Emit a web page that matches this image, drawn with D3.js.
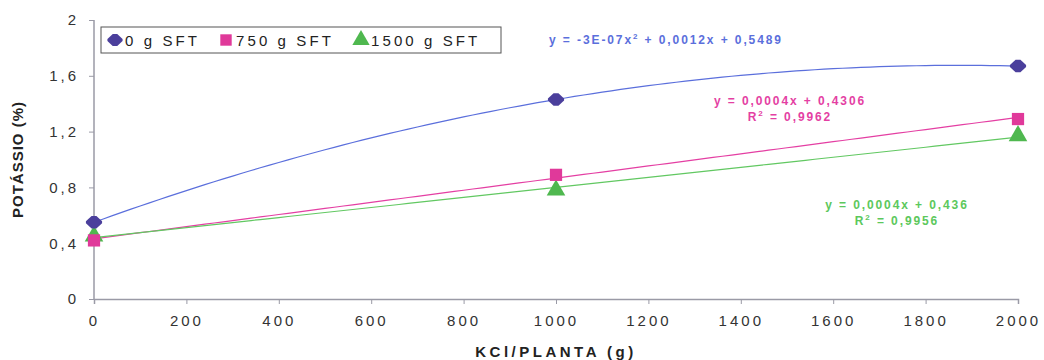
<!DOCTYPE html>
<html>
<head>
<meta charset="utf-8">
<script src="https://cdn.jsdelivr.net/npm/d3@7"></script>
<style>
  body { margin: 0; background: #fff; }
  svg text { font-family: Arial, "Liberation Sans", sans-serif; }
</style>
</head>
<body>
<svg id="chart" width="1044" height="360"></svg>
<script>
const doses = [0, 1000, 2000];
const sft0 = [0.55, 1.43, 1.67];
const sft750 = [0.42, 0.89, 1.29];
const sft1500 = [0.45, 0.78, 1.17];
const xTicks = [0, 200, 400, 600, 800, 1000, 1200, 1400, 1600, 1800, 2000];
const yTicks = [0, 0.4, 0.8, 1.2, 1.6, 2];

const width = 1044;
const height = 360;
const margin = { top: 20, right: 26, bottom: 61, left: 94 };

const svg = d3.select("#chart");
const x = d3.scaleLinear().domain([0, 2000]).range([margin.left, width - margin.right]);
const y = d3.scaleLinear().domain([0, 2]).range([height - margin.bottom, margin.top]);

// excel style diamond: wider than tall, with blunt sides
const wideDiamond = {
  draw(context, size) {
    const w = Math.sqrt(size) * 0.62;
    const h = w * 0.78;
    context.moveTo(-w, -h * 0.15);
    context.lineTo(-w * 0.3, -h);
    context.lineTo(w * 0.3, -h);
    context.lineTo(w, -h * 0.15);
    context.lineTo(w, h * 0.15);
    context.lineTo(w * 0.3, h);
    context.lineTo(-w * 0.3, h);
    context.lineTo(-w, h * 0.15);
    context.closePath();
  },
};

const series = [
  { name: "0 g SFT", values: sft0, line: "#5b6fdc", mark: "#4b3f9c", shape: wideDiamond, degree: 2 },
  { name: "750 g SFT", values: sft750, line: "#e43fa3", mark: "#e0399a", shape: d3.symbolSquare, degree: 1 },
  { name: "1500 g SFT", values: sft1500, line: "#62c862", mark: "#4fb84f", shape: d3.symbolTriangle, degree: 1 },
];

// least-squares polynomial fit (degree 1 or 2) used for the trend lines
function fit(xs, ys, degree) {
  const n = degree + 1;
  const A = Array.from({ length: n }, () => new Array(n + 1).fill(0));
  xs.forEach((xv, k) => {
    for (let i = 0; i < n; i++) {
      for (let j = 0; j < n; j++) A[i][j] += Math.pow(xv, i + j);
      A[i][n] += ys[k] * Math.pow(xv, i);
    }
  });
  for (let i = 0; i < n; i++) {
    for (let r = i + 1; r < n; r++) {
      const f = A[r][i] / A[i][i];
      for (let c = i; c <= n; c++) A[r][c] -= f * A[i][c];
    }
  }
  const coef = new Array(n).fill(0);
  for (let i = n - 1; i >= 0; i--) {
    let s = A[i][n];
    for (let j = i + 1; j < n; j++) s -= A[i][j] * coef[j];
    coef[i] = s / A[i][i];
  }
  return (xv) => coef.reduce((acc, c, i) => acc + c * Math.pow(xv, i), 0);
}

// axes
const axisColor = "#9a9aa6";
const yAxis = svg.append("g")
  .attr("transform", `translate(${margin.left},0)`)
  .call(d3.axisLeft(y).tickValues(yTicks).tickSize(5).tickFormat((d) => String(d).replace(".", ",")));
const xAxis = svg.append("g")
  .attr("transform", `translate(0,${height - margin.bottom})`)
  .call(d3.axisBottom(x).tickValues(xTicks).tickSize(5).tickFormat((d) => d));

[yAxis, xAxis].forEach((ax) => {
  ax.select(".domain").attr("stroke", axisColor).attr("stroke-width", 1.5);
  ax.selectAll(".tick line").attr("stroke", axisColor);
  ax.selectAll(".tick text").attr("fill", "#333").attr("font-size", 15);
});
yAxis.select(".domain").attr("d", `M-0,${y(2)}V${y(0)}`);
yAxis.selectAll(".tick text").attr("x", -15).attr("letter-spacing", 3);
xAxis.selectAll(".tick text").attr("y", 16).attr("letter-spacing", 3);

// axis titles
svg.append("text")
  .attr("transform", `translate(23,${(y(0) + y(2)) / 2}) rotate(-90)`)
  .attr("text-anchor", "middle")
  .attr("font-size", 15)
  .attr("font-weight", "bold")
  .attr("fill", "#222")
  .attr("letter-spacing", 1)
  .text("POTÁSSIO (%)");

svg.append("text")
  .attr("x", (x(0) + x(2000)) / 2)
  .attr("y", 357)
  .attr("text-anchor", "middle")
  .attr("font-size", 15)
  .attr("font-weight", "bold")
  .attr("fill", "#222")
  .attr("letter-spacing", 3.5)
  .text("KCl/PLANTA (g)");

// trend lines
const samples = d3.range(0, 2001, 20);
series.forEach((s) => {
  const f = fit(doses, s.values, s.degree);
  svg.append("path")
    .datum(samples)
    .attr("fill", "none")
    .attr("stroke", s.line)
    .attr("stroke-width", 1.2)
    .attr("d", d3.line().x((d) => x(d)).y((d) => y(f(d))));
});

// markers
series.slice().reverse().forEach((s) => {
  svg.append("g")
    .selectAll("path")
    .data(doses.map((d, i) => [d, s.values[i]]))
    .join("path")
    .attr("transform", (d) => `translate(${x(d[0])},${y(d[1])})`)
    .attr("d", d3.symbol().type(s.shape).size(s.shape === wideDiamond ? 170 : 150))
    .attr("fill", s.mark);
});

// legend
const legend = svg.append("g").attr("transform", "translate(101,27)");
legend.append("rect")
  .attr("width", 400).attr("height", 26)
  .attr("fill", "#fff").attr("stroke", "#555").attr("stroke-width", 1);
const legendX = [14, 125, 260];
series.forEach((s, i) => {
  const g = legend.append("g").attr("transform", `translate(${legendX[i]},13)`);
  g.append("path")
    .attr("d", d3.symbol().type(s.shape).size(s.shape === wideDiamond ? 150 : 130))
    .attr("fill", s.mark);
  g.append("text")
    .attr("x", 10).attr("y", 5.5)
    .attr("font-size", 15)
    .attr("letter-spacing", 3.1)
    .attr("fill", "#222")
    .text(s.name);
});

// equations
const equations = [
  { lines: [["y = -3E-07x", "2", " + 0,0012x + 0,5489"]], color: "#5b6fdc", cx: 666, cy: 44 },
  { lines: [["y = 0,0004x + 0,4306"], ["R", "2", " = 0,9962"]], color: "#e43fa3", cx: 790, cy: 105 },
  { lines: [["y = 0,0004x + 0,436"], ["R", "2", " = 0,9956"]], color: "#5cc85c", cx: 897, cy: 209 },
];
equations.forEach((eq) => {
  eq.lines.forEach((parts, li) => {
    const t = svg.append("text")
      .attr("x", eq.cx).attr("y", eq.cy + li * 16)
      .attr("text-anchor", "middle")
      .attr("font-size", 12)
      .attr("font-weight", "bold")
      .attr("letter-spacing", 1.9)
      .attr("fill", eq.color);
    parts.forEach((p, pi) => {
      const ts = t.append("tspan").text(p);
      if (pi === 1) ts.attr("font-size", 8).attr("dy", -5);
      if (pi === 2) ts.attr("dy", 5);
    });
  });
});
</script>
</body>
</html>
